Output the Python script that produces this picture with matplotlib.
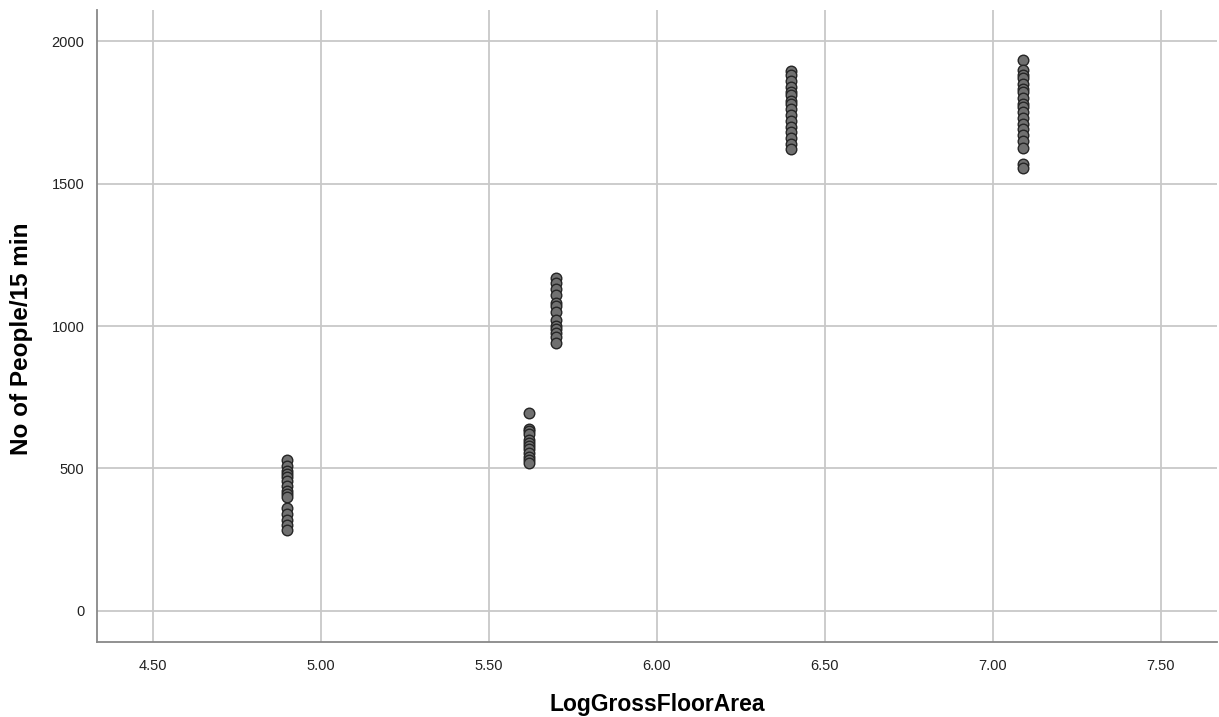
import matplotlib
matplotlib.use("Agg")
import matplotlib.pyplot as plt
import numpy as np

plt.rcParams['font.family'] = ['Liberation Sans', 'DejaVu Sans']

# Data
log_area_levels = [4.90, 5.62, 5.70, 6.40, 7.09]
people_490 = [530, 510, 490, 480, 470, 455, 440, 420, 410, 400, 360, 340, 320, 300, 285]
people_562 = [695, 640, 630, 620, 600, 590, 580, 570, 555, 540, 530, 520]
people_570 = [1170, 1150, 1130, 1110, 1080, 1070, 1050, 1020, 1000, 990, 975, 960, 940]
people_640 = [1895, 1880, 1860, 1840, 1820, 1810, 1790, 1780, 1760, 1740, 1720, 1700,
              1680, 1660, 1640, 1620]
people_709 = [1935, 1900, 1880, 1870, 1850, 1830, 1820, 1800, 1780, 1770, 1750, 1730,
              1710, 1690, 1670, 1650, 1625, 1570, 1555]
groups = [people_490, people_562, people_570, people_640, people_709]

x_ticks = [4.50, 5.00, 5.50, 6.00, 6.50, 7.00, 7.50]
y_ticks = [0, 500, 1000, 1500, 2000]

fig = plt.figure(figsize=(12.19, 7.17), dpi=100)
ax = fig.add_axes([97/1219, 1 - 642/717, (1217-97)/1219, (642-10)/717])

xs = []
ys = []
for lvl, vals in zip(log_area_levels, groups):
    xs.extend([lvl] * len(vals))
    ys.extend(vals)

ax.scatter(xs, ys, s=58, facecolor='#707070', edgecolor='#252525', linewidth=1.0, zorder=3)

ax.set_xlim(4.333, 7.667)
ax.set_ylim(-109, 2109)
ax.set_xticks(x_ticks)
ax.set_xticklabels([f"{v:.2f}" for v in x_ticks])
ax.set_yticks(y_ticks)
ax.grid(True, color='#c8c8c8', linewidth=1.3, zorder=0)
ax.set_axisbelow(True)
ax.tick_params(axis='y', length=0, labelsize=10.5, colors='#222222', pad=9)
ax.tick_params(axis='x', length=0, labelsize=10.5, colors='#222222', pad=12)
for side in ['top', 'right']:
    ax.spines[side].set_visible(False)
for side in ['left', 'bottom']:
    ax.spines[side].set_color('#888888')
    ax.spines[side].set_linewidth(1.3)

ax.set_xlabel('LogGrossFloorArea', fontsize=16.5, fontweight='bold', va='center')
ax.set_ylabel('No of People/15 min', fontsize=17.5, fontweight='bold', va='center')
ax.xaxis.set_label_coords(0.5, (642 - 705) / 632)
ax.yaxis.set_label_coords((22 - 97) / 1120, (642 - 339) / 632)

fig.savefig('out.png', dpi=100)
